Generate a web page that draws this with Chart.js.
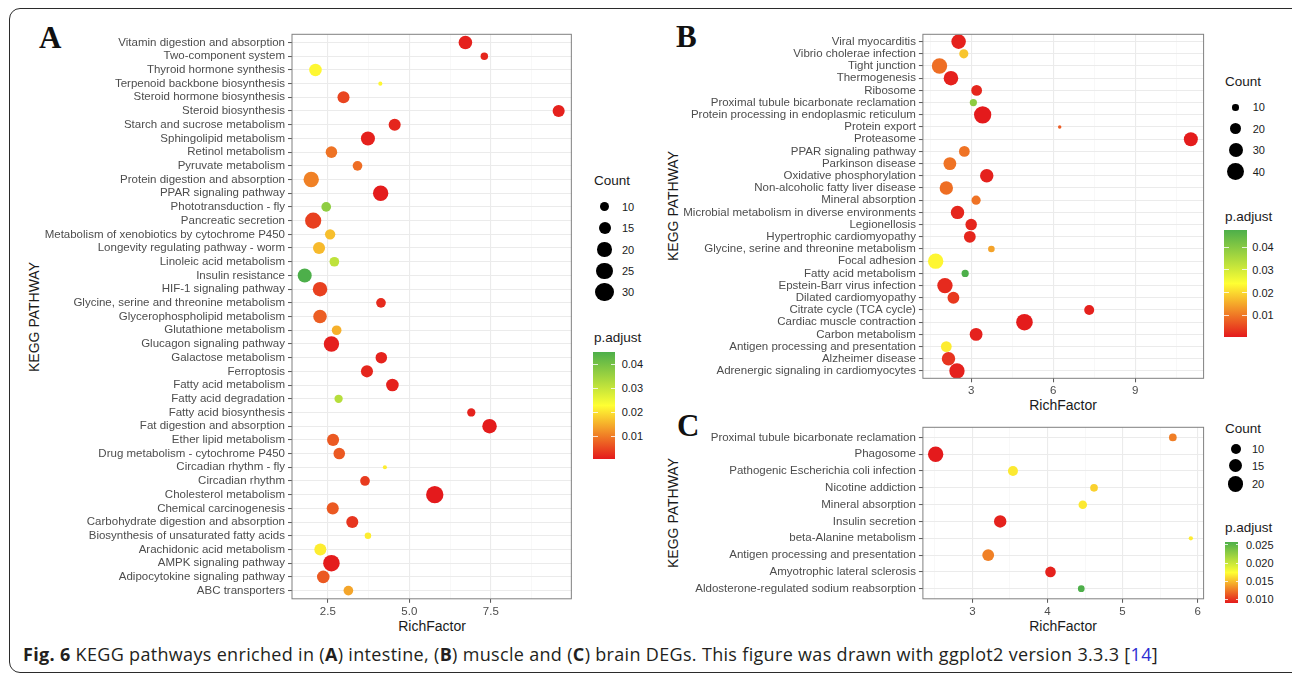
<!DOCTYPE html>
<html lang="en">
<head>
<meta charset="UTF-8">
<title>KEGG pathways enriched in intestine, muscle and brain DEGs</title>
<script src="https://cdn.jsdelivr.net/npm/chart.js"></script>
<style>
  body { margin: 0; background: #fff; font-family: "Liberation Sans", Arial, sans-serif; }
  #fig { position: relative; width: 1292px; height: 674px; overflow: hidden; background: #fff; }
  .frame { position: absolute; left: 9px; top: 8px; width: 1330px; height: 665px; border: 1.5px solid #2b2b2b; border-radius: 11px; box-sizing: border-box; }
  .letter { position: absolute; font-family: "Liberation Serif", "Times New Roman", serif; font-weight: bold; font-size: 31px; line-height: 1; color: #111; }
  .ytitle { position: absolute; font-size: 14px; line-height: 1; color: #1a1a1a; white-space: nowrap; transform: translate(-50%, -50%) rotate(-90deg); }
  .xtitle { position: absolute; font-size: 14px; line-height: 1; color: #1a1a1a; white-space: nowrap; transform: translate(-50%, -50%); }
  .lgtitle { position: absolute; font-size: 13.5px; line-height: 1; color: #1a1a1a; white-space: nowrap; transform: translateY(-50%); }
  .lglabel { position: absolute; font-size: 11px; line-height: 1; color: #1a1a1a; white-space: nowrap; transform: translateY(-50%); }
  .key { position: absolute; background: #000; border-radius: 50%; }
  .bar { position: absolute; }
  .barTick { position: absolute; height: 1px; background: rgba(255,255,255,0.8); }
  .caption { position: absolute; left: 23px; top: 643px; font-family: "Open Sans", sans-serif; font-size: 18px; line-height: 22px; color: #231f20; white-space: nowrap; }
  .caption b { font-weight: 700; }
  .caption .ref { color: #2d2dd2; }
</style>
</head>
<body>
<div id="fig">
  <div class="frame"></div>
  <div class="letter" style="left:39px; top:22px;">A</div>
  <div class="letter" style="left:676px; top:21px;">B</div>
  <div class="letter" style="left:677px; top:410px;">C</div>
  <div class="ytitle" style="left:34px; top:316.5px;">KEGG PATHWAY</div>
  <div class="ytitle" style="left:672.5px; top:206px;">KEGG PATHWAY</div>
  <div class="ytitle" style="left:672.5px; top:513px;">KEGG PATHWAY</div>
  <div class="xtitle" style="left:432px; top:626px;">RichFactor</div>
  <div class="xtitle" style="left:1063px; top:405px;">RichFactor</div>
  <div class="xtitle" style="left:1063px; top:626px;">RichFactor</div>
  <div class="caption" id="caption"><b>Fig. 6</b> KEGG pathways enriched in (<b>A</b>) intestine, (<b>B</b>) muscle and (<b>C</b>) brain DEGs. This figure was drawn with ggplot2 version 3.3.3 [<span class="ref">14</span>]</div>
</div>
<script>
// ---------- A: intestine ----------
const pathwaysA = ['Vitamin digestion and absorption', 'Two-component system', 'Thyroid hormone synthesis',
  'Terpenoid backbone biosynthesis', 'Steroid hormone biosynthesis', 'Steroid biosynthesis',
  'Starch and sucrose metabolism', 'Sphingolipid metabolism', 'Retinol metabolism', 'Pyruvate metabolism',
  'Protein digestion and absorption', 'PPAR signaling pathway', 'Phototransduction - fly', 'Pancreatic secretion',
  'Metabolism of xenobiotics by cytochrome P450', 'Longevity regulating pathway - worm', 'Linoleic acid metabolism',
  'Insulin resistance', 'HIF-1 signaling pathway', 'Glycine, serine and threonine metabolism',
  'Glycerophospholipid metabolism', 'Glutathione metabolism', 'Glucagon signaling pathway', 'Galactose metabolism',
  'Ferroptosis', 'Fatty acid metabolism', 'Fatty acid degradation', 'Fatty acid biosynthesis',
  'Fat digestion and absorption', 'Ether lipid metabolism', 'Drug metabolism - cytochrome P450',
  'Circadian rhythm - fly', 'Circadian rhythm', 'Cholesterol metabolism', 'Chemical carcinogenesis',
  'Carbohydrate digestion and absorption', 'Biosynthesis of unsaturated fatty acids', 'Arachidonic acid metabolism',
  'AMPK signaling pathway', 'Adipocytokine signaling pathway', 'ABC transporters'];
const richA = [6.72, 7.30, 2.12, 4.11, 2.98, 9.58, 4.55, 3.73, 2.61, 3.41, 1.99, 4.12, 2.45, 2.05,
  2.57, 2.23, 2.70, 1.79, 2.26, 4.13, 2.26, 2.77, 2.61, 4.14, 3.70, 4.48, 2.83, 6.90, 7.46, 2.66,
  2.85, 4.25, 3.64, 5.78, 2.65, 3.25, 3.73, 2.27, 2.61, 2.36, 3.13];
const countA = [18, 8, 16, 5, 15, 15, 15, 19, 14, 11, 22, 22, 11, 24, 12, 15, 11, 19, 20, 11,
  18, 11, 22, 14, 15, 16, 9, 9, 20, 15, 14, 5, 11, 27, 15, 15, 7, 15, 25, 16, 11];
const padjA = [0.001, 0.0015, 0.022, 0.022, 0.0045, 0.001, 0.0015, 0.001, 0.009, 0.0085, 0.0104, 0.0005,
  0.037, 0.004, 0.0165, 0.016, 0.031, 0.0453, 0.004, 0.002, 0.007, 0.015, 0.0008, 0.0012, 0.0015,
  0.001, 0.032, 0.0012, 0.0005, 0.0065, 0.0065, 0.021, 0.0035, 0.0003, 0.0065, 0.003, 0.021,
  0.021, 0.0005, 0.0065, 0.014];
const xTicksA = [2.5, 5.0, 7.5];
const xTickLabelsA = ['2.5', '5.0', '7.5'];
const xMinorA = [3.75, 6.25, 8.75];
const countBreaksA = [10, 15, 20, 25, 30];
const padjBreaksA = [0.01, 0.02, 0.03, 0.04];
const padjLabelsA = ['0.01', '0.02', '0.03', '0.04'];

// ---------- B: muscle ----------
const pathwaysB = ['Viral myocarditis', 'Vibrio cholerae infection', 'Tight junction', 'Thermogenesis', 'Ribosome',
  'Proximal tubule bicarbonate reclamation', 'Protein processing in endoplasmic reticulum', 'Protein export',
  'Proteasome', 'PPAR signaling pathway', 'Parkinson disease', 'Oxidative phosphorylation',
  'Non-alcoholic fatty liver disease', 'Mineral absorption', 'Microbial metabolism in diverse environments',
  'Legionellosis', 'Hypertrophic cardiomyopathy', 'Glycine, serine and threonine metabolism', 'Focal adhesion',
  'Fatty acid metabolism', 'Epstein-Barr virus infection', 'Dilated cardiomyopathy', 'Citrate cycle (TCA cycle)',
  'Cardiac muscle contraction', 'Carbon metabolism', 'Antigen processing and presentation', 'Alzheimer disease',
  'Adrenergic signaling in cardiomyocytes'];
const richB = [2.54, 2.73, 1.84, 2.26, 3.20, 3.08, 3.42, 6.24, 11.04, 2.75, 2.22, 3.57, 2.09, 3.18,
  2.50, 3.00, 2.95, 3.74, 1.70, 2.78, 2.04, 2.35, 7.32, 4.95, 3.18, 2.09, 2.17, 2.48];
const countB = [31, 15, 34, 31, 19, 11, 42, 6, 29, 19, 25, 27, 27, 15, 27, 21, 22, 10, 34, 11,
  34, 22, 17, 39, 25, 19, 27, 34];
const padjB = [0.001, 0.018, 0.009, 0.001, 0.0015, 0.039, 0.0003, 0.007, 0.0005, 0.0095, 0.0095, 0.001,
  0.009, 0.0095, 0.0015, 0.0015, 0.0015, 0.0145, 0.023, 0.0476, 0.002, 0.0035, 0.001, 0.0005,
  0.001, 0.022, 0.003, 0.001];
const xTicksB = [3, 6, 9];
const xTickLabelsB = ['3', '6', '9'];
const xMinorB = [1.5, 4.5, 7.5, 10.5];
const countBreaksB = [10, 20, 30, 40];
const padjBreaksB = [0.01, 0.02, 0.03, 0.04];
const padjLabelsB = ['0.01', '0.02', '0.03', '0.04'];

// ---------- C: brain ----------
const pathwaysC = ['Proximal tubule bicarbonate reclamation', 'Phagosome', 'Pathogenic Escherichia coli infection',
  'Nicotine addiction', 'Mineral absorption', 'Insulin secretion', 'beta-Alanine metabolism',
  'Antigen processing and presentation', 'Amyotrophic lateral sclerosis', 'Aldosterone-regulated sodium reabsorption'];
const richC = [5.67, 2.51, 3.54, 4.62, 4.47, 3.37, 5.91, 3.21, 4.04, 4.45];
const countC = [7, 20, 10, 7, 8, 14, 4, 13, 11, 6];
const padjC = [0.0126, 0.0089, 0.0166, 0.0157, 0.0166, 0.0092, 0.0167, 0.0127, 0.0092, 0.0259];
const xTicksC = [3, 4, 5, 6];
const xTickLabelsC = ['3', '4', '5', '6'];
const xMinorC = [2.5, 3.5, 4.5, 5.5];
const countBreaksC = [10, 15, 20];
const padjBreaksC = [0.010, 0.015, 0.020, 0.025];
const padjLabelsC = ['0.010', '0.015', '0.020', '0.025'];

// point radius (px) for a gene count, one scale per panel like ggplot does
const sizeA = c => Math.sqrt(3.22 * (c - 3.7));
const sizeB = c => Math.sqrt(2.0 * (c - 4.5));
const sizeC = c => Math.sqrt(3.4 * (c - 2.65));

// red -> yellow -> green colour scale for p.adjust
const LOW = [228, 26, 28], MID = [255, 255, 51], HIGH = [77, 175, 74];
function mix(a, b, t) { return a.map((v, i) => Math.round(v + (b[i] - v) * t)); }
function padjColor(p, lo, hi) {
  const t = Math.min(1, Math.max(0, (p - lo) / (hi - lo)));
  const c = t < 0.5 ? mix(LOW, MID, t * 2) : mix(MID, HIGH, (t - 0.5) * 2);
  return `rgb(${c})`;
}

Chart.defaults.font.family = '"Liberation Sans", Arial, sans-serif';

const panelBorder = {
  id: 'panelBorder',
  afterDraw(chart) {
    const { ctx, chartArea: a } = chart;
    ctx.save();
    ctx.strokeStyle = '#808080';
    ctx.lineWidth = 1;
    ctx.strokeRect(a.left, a.top, a.right - a.left, a.bottom - a.top);
    ctx.restore();
  }
};

const fig = document.getElementById('fig');

function makePanel(cfg) {
  const canvas = document.createElement('canvas');
  canvas.width = cfg.w;
  canvas.height = cfg.h;
  canvas.style.cssText = `position:absolute;left:${cfg.left}px;top:${cfg.top}px;width:${cfg.w}px;height:${cfg.h}px`;
  fig.appendChild(canvas);

  const lo = Math.min(...cfg.padj), hi = Math.max(...cfg.padj);
  const xlo = Math.min(...cfg.rich), xhi = Math.max(...cfg.rich);
  const xpad = (xhi - xlo) * 0.05;
  const n = cfg.pathways.length;
  const isMajor = v => cfg.xTicks.includes(v);

  new Chart(canvas, {
    type: 'bubble',
    data: {
      datasets: [{
        data: cfg.pathways.map((name, i) => ({ x: cfg.rich[i], y: i, r: cfg.size(cfg.count[i]) })),
        backgroundColor: cfg.padj.map(p => padjColor(p, lo, hi)),
        borderWidth: 0
      }]
    },
    options: {
      responsive: false,
      animation: false,
      devicePixelRatio: 1,
      events: [],
      layout: { padding: cfg.padding },
      plugins: { legend: { display: false }, tooltip: { enabled: false } },
      scales: {
        x: {
          type: 'linear', min: xlo - xpad, max: xhi + xpad,
          afterBuildTicks: s => { s.ticks = [...cfg.xTicks, ...cfg.xMinor].sort((a, b) => a - b).map(v => ({ value: v })); },
          afterFit: s => { s.height = 20; },
          ticks: {
            autoSkip: false, maxRotation: 0, padding: 2, color: '#4d4d4d', font: { size: 11.5 },
            callback: v => { const k = cfg.xTicks.indexOf(v); return k < 0 ? '' : cfg.xTickLabels[k]; }
          },
          grid: {
            color: c => (c.tick && isMajor(c.tick.value)) ? '#ebebeb' : '#f3f3f3',
            lineWidth: c => (c.tick && isMajor(c.tick.value)) ? 1.1 : 0.6,
            tickLength: 4,
            tickColor: c => (c.tick && isMajor(c.tick.value)) ? '#555' : 'rgba(0,0,0,0)',
            tickWidth: 1
          },
          border: { display: false }
        },
        y: {
          type: 'linear', reverse: true, min: -0.6, max: n - 0.4,
          afterBuildTicks: s => { s.ticks = cfg.pathways.map((_, i) => ({ value: i })); },
          afterFit: s => { s.width = cfg.yWidth; },
          ticks: {
            autoSkip: false, padding: 3, color: '#4d4d4d', font: { size: 11.5 },
            callback: v => cfg.pathways[v]
          },
          grid: { color: '#ebebeb', lineWidth: 1.1, tickLength: 4, tickColor: '#555', tickWidth: 1 },
          border: { display: false }
        }
      }
    },
    plugins: [panelBorder]
  });
  makeLegend(cfg.legend, cfg.size, lo, hi);
}

function addDiv(cls, text, css) {
  const d = document.createElement('div');
  d.className = cls;
  if (text !== null) d.textContent = text;
  d.style.cssText = css;
  fig.appendChild(d);
  return d;
}

function makeLegend(L, size, lo, hi) {
  addDiv('lgtitle', 'Count', `left:${L.x}px;top:${L.countTitleY}px`);
  L.countBreaks.forEach((c, i) => {
    const r = size(c);
    addDiv('key', null, `left:${L.keyX - r}px;top:${L.rowY[i] - r}px;width:${2 * r}px;height:${2 * r}px`);
    addDiv('lglabel', String(c), `left:${L.labelX}px;top:${L.rowY[i]}px`);
  });
  addDiv('lgtitle', 'p.adjust', `left:${L.x}px;top:${L.padTitleY}px`);
  const b = L.bar;
  addDiv('bar', null, `left:${b.left}px;top:${b.top}px;width:${b.w}px;height:${b.h}px;` +
    `background:linear-gradient(to top, rgb(${LOW}), rgb(${MID}), rgb(${HIGH}))`);
  L.padjBreaks.forEach((p, i) => {
    const y = b.top + b.h * (1 - (p - lo) / (hi - lo));
    const tw = b.w / 5;
    addDiv('barTick', null, `left:${b.left}px;top:${y - 0.5}px;width:${tw}px`);
    addDiv('barTick', null, `left:${b.left + b.w - tw}px;top:${y - 0.5}px;width:${tw}px`);
    addDiv('lglabel', L.padjLabels[i], `left:${L.barLabelX}px;top:${y}px`);
  });
}

makePanel({
  left: 0, top: 0, w: 580, h: 645, yWidth: 292,
  padding: { left: 0, top: 34.3, right: 7.5, bottom: 645 - 598.8 - 20 },
  pathways: pathwaysA, rich: richA, count: countA, padj: padjA, size: sizeA,
  xTicks: xTicksA, xTickLabels: xTickLabelsA, xMinor: xMinorA,
  legend: {
    x: 594, countTitleY: 181, keyX: 604.7, labelX: 622,
    rowY: [206.7, 228.1, 249.5, 270.9, 292.3], countBreaks: countBreaksA,
    padTitleY: 338, bar: { left: 593.3, top: 351.7, w: 21.7, h: 107.6 }, barLabelX: 621.7,
    padjBreaks: padjBreaksA, padjLabels: padjLabelsA
  }
});

makePanel({
  left: 640, top: 0, w: 575, h: 400, yWidth: 282.9,
  padding: { left: 0, top: 34.3, right: 11.4, bottom: 400 - 378.3 - 20 },
  pathways: pathwaysB, rich: richB, count: countB, padj: padjB, size: sizeB,
  xTicks: xTicksB, xTickLabels: xTickLabelsB, xMinor: xMinorB,
  legend: {
    x: 1225, countTitleY: 81.7, keyX: 1235.7, labelX: 1252.7,
    rowY: [107.3, 128.8, 150.3, 171.8], countBreaks: countBreaksB,
    padTitleY: 217.3, bar: { left: 1224.3, top: 230, w: 22.4, h: 107.3 }, barLabelX: 1252.3,
    padjBreaks: padjBreaksB, padjLabels: padjLabelsB
  }
});

makePanel({
  left: 640, top: 400, w: 575, h: 245, yWidth: 282.9,
  padding: { left: 0, top: 27.3, right: 11.4, bottom: 645 - 598.8 - 20 },
  pathways: pathwaysC, rich: richC, count: countC, padj: padjC, size: sizeC,
  xTicks: xTicksC, xTickLabels: xTickLabelsC, xMinor: xMinorC,
  legend: {
    x: 1225, countTitleY: 429, keyX: 1235.7, labelX: 1252,
    rowY: [449, 465.5, 484], countBreaks: countBreaksC,
    padTitleY: 528.3, bar: { left: 1225, top: 541.7, w: 13.3, h: 61.6 }, barLabelX: 1246,
    padjBreaks: padjBreaksC, padjLabels: padjLabelsC
  }
});

// nudge the caption's letter spacing so it spans the same width as in the figure
const cap = document.getElementById('caption');
const capChars = cap.textContent.length;
cap.style.letterSpacing = ((1135 - cap.getBoundingClientRect().width) / capChars) + 'px';
</script>
</body>
</html>
